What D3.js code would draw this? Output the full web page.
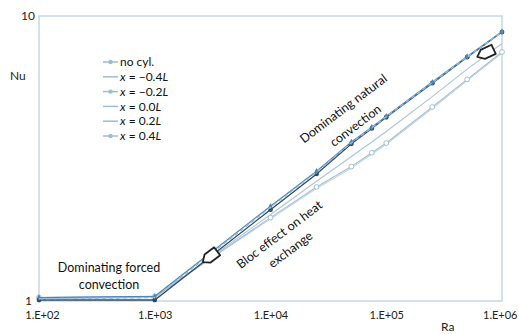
<!DOCTYPE html>
<html>
<head>
<meta charset="utf-8">
<script src="https://cdn.jsdelivr.net/npm/d3@7"></script>
<style>
  body { margin: 0; background: #fff; }
</style>
</head>
<body>
<div id="chart"></div>
<script>
const width = 519;
const height = 334;

// Rayleigh numbers sampled in each run
const ra = [1e2, 1e3, 1e4, 2.5e4, 5e4, 7.5e4, 1e5, 2.5e5, 5e5, 1e6];

// Nusselt number per cylinder position
const nuNoCyl = [1.02, 1.03, 2.14, 2.84, 3.60, 4.06, 4.44, 5.85, 7.20, 8.80];
const nuM04 = [1.00, 1.00, 2.08, 2.78, 3.55, 4.02, 4.40, 5.80, 7.16, 8.78];
const nuM02 = [1.01, 1.02, 2.12, 2.82, 3.58, 4.04, 4.42, 5.83, 7.18, 8.79];
const nu00 = [1.01, 1.02, 2.00, 2.62, 3.20, 3.60, 3.92, 5.20, 6.50, 8.00];
const nu02 = [1.02, 1.03, 1.95, 2.50, 2.95, 3.30, 3.57, 4.78, 5.98, 7.47];
const nu04 = [1.02, 1.03, 1.93, 2.47, 2.91, 3.26, 3.53, 4.72, 5.92, 7.40];

const seriesNames = ["no cyl.", "x = \u22120.4L", "x = \u22120.2L", "x = 0.0L", "x = 0.2L", "x = 0.4L"];
const xTicks = [1e2, 1e3, 1e4, 1e5, 1e6];
const xTickLabels = ["1.E+02", "1.E+03", "1.E+04", "1.E+05", "1.E+06"];
const yTicks = [1, 10];

const series = [
  { name: seriesNames[5], values: nu04, color: "#b9cfde", width: 1.0, dash: null, marker: "none" },
  { name: seriesNames[4], values: nu02, color: "#a3bfd3", width: 1.1, dash: null, marker: "open" },
  { name: seriesNames[3], values: nu00, color: "#a9c4d8", width: 1.1, dash: null, marker: "none" },
  { name: seriesNames[1], values: nuM04, color: "#34495c", width: 1.3, dash: null, marker: "dot" },
  { name: seriesNames[0], values: nuNoCyl, color: "#4f86b3", width: 1.3, dash: null, marker: "diamond" },
  { name: seriesNames[2], values: nuM02, color: "#8fbbdc", width: 1.4, dash: "4,3", marker: "none" }
];

const svg = d3.select("#chart").append("svg")
  .attr("width", width)
  .attr("height", height)
  .style("font-family", "Lato, sans-serif");

const x = d3.scaleLog().domain([1e2, 1e6]).range([39, 502]);
const y = d3.scaleLog().domain([1, 10]).range([300, 16]);

// frame
svg.append("rect")
  .attr("x", x(1e2))
  .attr("y", y(10))
  .attr("width", x(1e6) - x(1e2))
  .attr("height", y(1) - y(10) + 1)
  .attr("fill", "none")
  .attr("stroke", "#c3d7e6")
  .attr("stroke-width", 1.5);

// x axis labels
const xAxis = d3.axisBottom(x)
  .tickValues(xTicks)
  .tickFormat((d, i) => xTickLabels[i])
  .tickSize(0)
  .tickPadding(11);

svg.append("g")
  .attr("transform", `translate(0,${y(1)})`)
  .call(xAxis)
  .call(g => g.select(".domain").remove())
  .selectAll("text")
    .style("font-family", "Lato, sans-serif")
    .style("font-size", "11px")
    .attr("fill", "#222")
    .attr("text-anchor", (d, i) => i === xTicks.length - 1 ? "end" : "middle")
    .attr("dx", (d, i) => i === 0 ? "3" : i === xTicks.length - 1 ? "15" : "0");

const yAxis = d3.axisLeft(y)
  .tickValues(yTicks)
  .tickFormat(d3.format("d"))
  .tickSize(0)
  .tickPadding(5);

svg.append("g")
  .attr("transform", `translate(${x(1e2)},0)`)
  .call(yAxis)
  .call(g => g.select(".domain").remove())
  .selectAll("text")
    .style("font-family", "Lato, sans-serif")
    .style("font-size", "12px")
    .attr("fill", "#222")
    .attr("x", d => d === 1 ? -7 : -4)
    .attr("dy", d => d === 1 ? "0.4em" : "0.32em");

// axis titles
svg.append("text")
  .attr("x", 10)
  .attr("y", 80)
  .style("font-size", "12px")
  .attr("fill", "#222")
  .text("Nu");

svg.append("text")
  .attr("x", 441)
  .attr("y", 331)
  .style("font-size", "12px")
  .attr("fill", "#222")
  .text("Ra");

// lines
const line = d3.line()
  .x((d, i) => x(ra[i]))
  .y(d => y(d));

const plot = svg.append("g");

series.forEach(s => {
  plot.append("path")
    .datum(s.values)
    .attr("fill", "none")
    .attr("stroke", s.color)
    .attr("stroke-width", s.width)
    .attr("stroke-dasharray", s.dash)
    .attr("d", line);

  const pts = plot.append("g")
    .selectAll("g")
    .data(s.values)
    .join("g")
      .attr("transform", (d, i) => `translate(${x(ra[i])},${y(d)})`);

  if (s.marker === "dot") {
    pts.append("circle").attr("r", 2.4).attr("fill", s.color);
  } else if (s.marker === "open") {
    pts.append("circle").attr("r", 2.4).attr("fill", "#fff")
      .attr("stroke", s.color).attr("stroke-width", 1);
  } else if (s.marker === "diamond") {
    pts.append("path").attr("d", d3.symbol(d3.symbolDiamond, 12))
      .attr("fill", s.color);
  }
});

// block arrows marking regime changes
const arrowShape = "M-9,-5 L3,-5 L9,0 L3,5 L-9,5 Z";
[
  { ra: 3e3, nu: 1.42, angle: 143 },
  { ra: 7.2e5, nu: 7.4, angle: 155 }
].forEach(a => {
  svg.append("path")
    .attr("d", arrowShape)
    .attr("transform", `translate(${x(a.ra)},${y(a.nu)}) rotate(${a.angle})`)
    .attr("fill", "#fff")
    .attr("stroke", "#222")
    .attr("stroke-width", 1.8)
    .attr("stroke-linejoin", "round");
});

// annotations
const notes = svg.append("g")
  .style("font-size", "12.5px")
  .attr("fill", "#111")
  .attr("text-anchor", "middle");

notes.append("text").attr("x", 109).attr("y", 272).text("Dominating forced");
notes.append("text").attr("x", 109).attr("y", 289).text("convection");

notes.append("text")
  .attr("transform", "translate(346,112) rotate(-37)")
  .text("Dominating natural");
notes.append("text")
  .attr("transform", "translate(358,129) rotate(-37)")
  .text("convection");

notes.append("text")
  .attr("transform", "translate(282,238) rotate(-37)")
  .text("Bloc effect on heat");
notes.append("text")
  .attr("transform", "translate(293,253) rotate(-37)")
  .text("exchange");

// legend
const legend = svg.append("g")
  .attr("transform", "translate(103,62)");

const rows = legend.selectAll("g")
  .data(seriesNames)
  .join("g")
    .attr("transform", (d, i) => `translate(0,${i * 14.8})`);

rows.append("line")
  .attr("x1", 0).attr("x2", 15)
  .attr("stroke", "#9dbdd3")
  .attr("stroke-width", 1.5);

rows.append("circle")
  .attr("cx", 7.5)
  .attr("r", (d, i) => i === 0 || i === 2 || i === 5 ? 2.2 : 0)
  .attr("fill", "#9dbdd3");

rows.append("text")
  .attr("x", 17)
  .attr("dy", "0.35em")
  .style("font-size", "12px")
  .attr("fill", "#111")
  .each(function(d) {
    const t = d3.select(this);
    if (d.startsWith("x")) {
      const m = d.match(/^x(.*)L$/);
      t.append("tspan").style("font-style", "italic").text("x");
      t.append("tspan").text(m[1]);
      t.append("tspan").style("font-style", "italic").text("L");
    } else {
      t.text(d);
    }
  });
</script>
</body>
</html>
